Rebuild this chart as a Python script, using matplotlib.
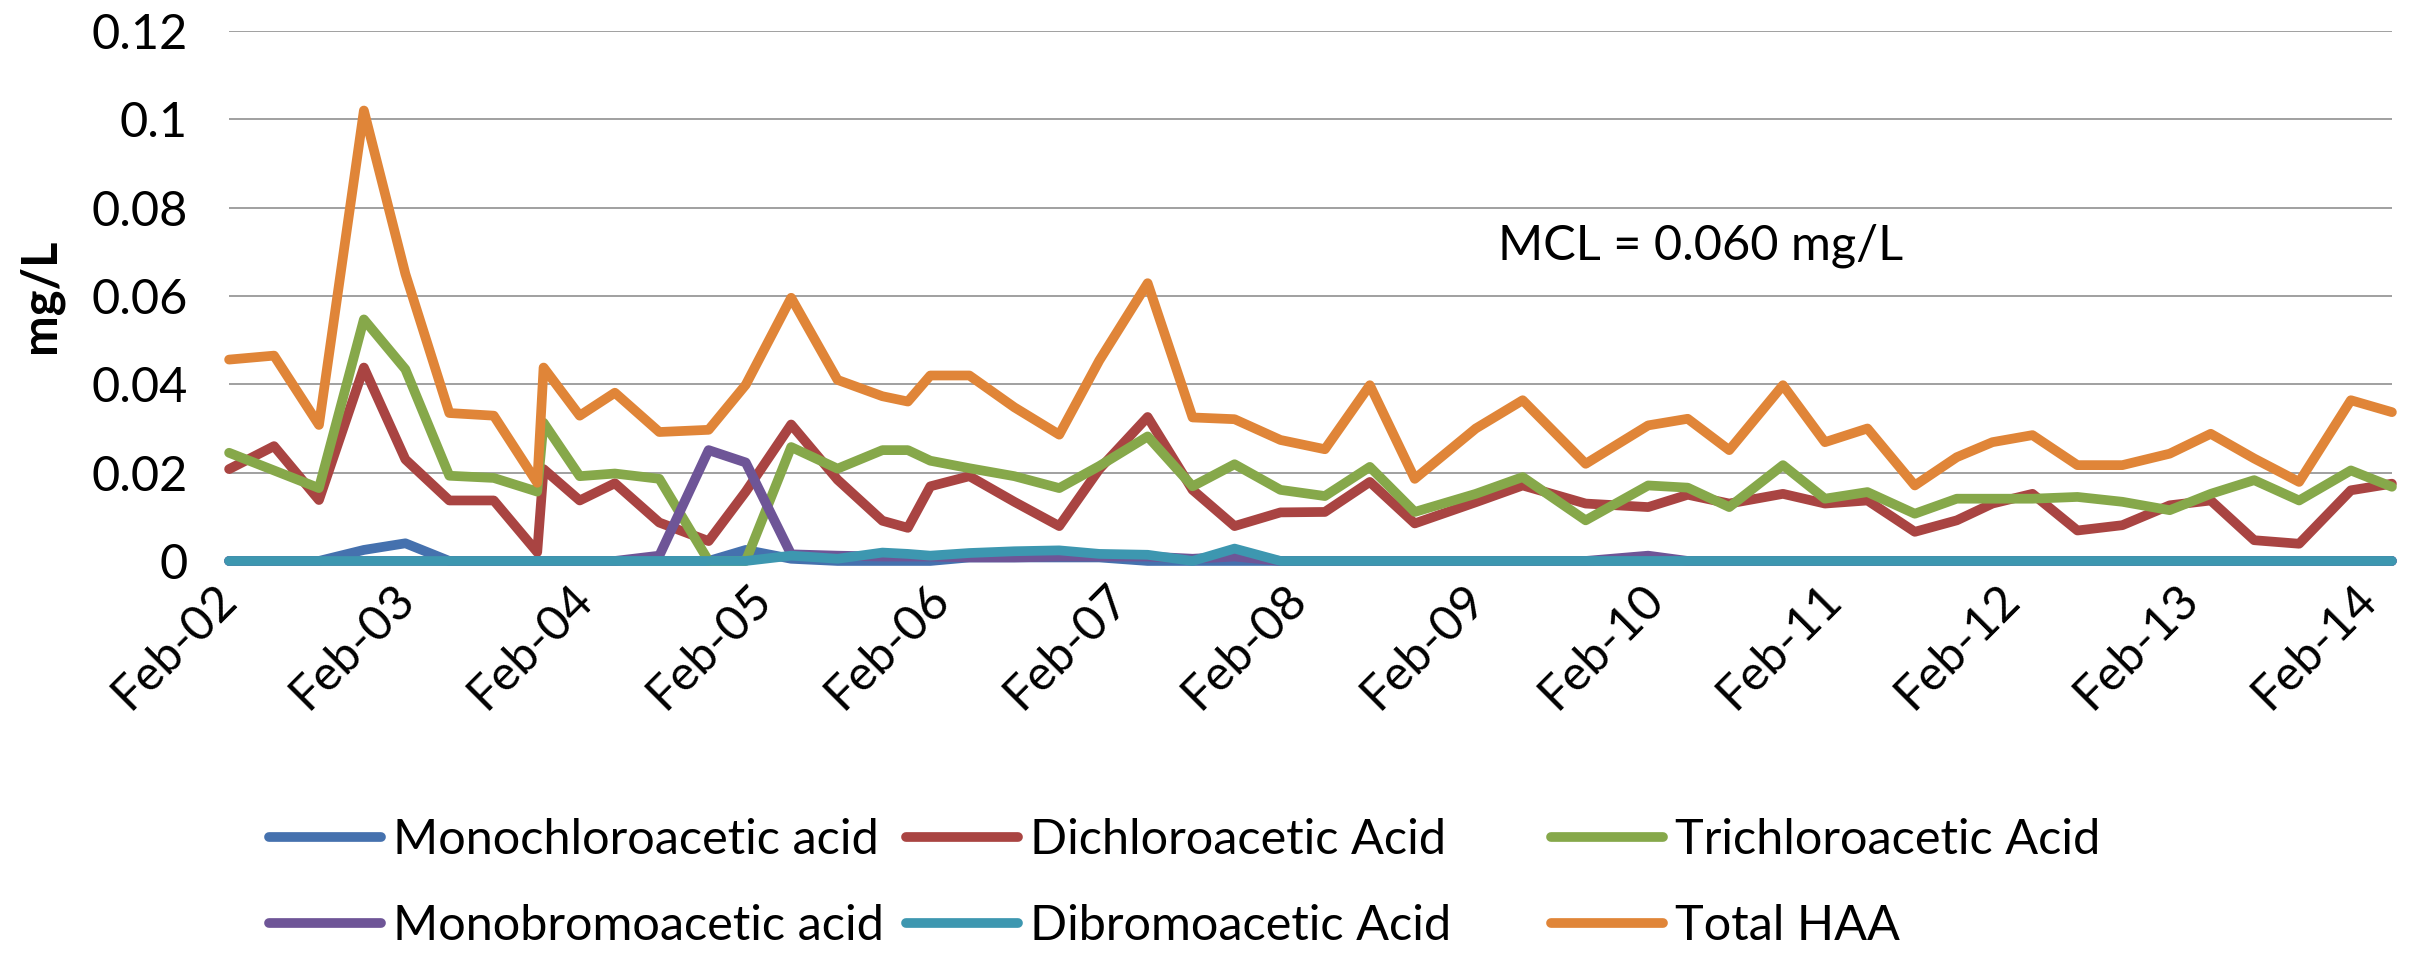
import matplotlib
matplotlib.use('Agg')
import matplotlib.pyplot as plt
import matplotlib.dates as mdates
import numpy as np
from datetime import datetime

plt.rcParams['font.family'] = ['Lato', 'DejaVu Sans']

# sampling dates
dates = ['2002-02-01', '2002-05-04', '2002-08-04', '2002-11-04', '2003-01-28',
         '2003-04-28', '2003-07-28', '2003-10-25', '2003-11-07', '2004-01-20',
         '2004-04-01', '2004-07-01', '2004-10-10', '2004-12-25', '2005-03-28',
         '2005-07-01', '2005-10-01', '2005-11-22', '2006-01-07', '2006-03-28',
         '2006-06-28', '2006-09-28', '2006-12-19', '2007-03-28', '2007-06-28',
         '2007-09-22', '2007-12-25', '2008-03-25', '2008-06-25', '2008-09-25',
         '2009-01-28', '2009-05-04', '2009-09-10', '2010-01-16', '2010-04-07',
         '2010-07-01', '2010-10-19', '2011-01-13', '2011-04-10', '2011-07-16',
         '2011-10-10', '2011-12-22', '2012-03-13', '2012-06-13', '2012-09-13',
         '2012-12-19', '2013-03-13', '2013-06-10', '2013-09-10', '2013-12-25',
         '2014-03-19']

mono_chloro = [0, 0, 0, 0.0025, 0.0040, 0, 0, 0, 0, 0,
               0, 0, 0, 0.0025, 0.0005, 0, 0, 0, 0, 0.0008,
               0.0008, 0.0008, 0.0008, 0, 0, 0, 0, 0, 0, 0,
               0, 0, 0, 0, 0, 0, 0, 0, 0, 0,
               0, 0, 0, 0, 0, 0, 0, 0, 0, 0,
               0]

di_chloro = [0.0208, 0.0260, 0.0138, 0.0438, 0.0230, 0.0137, 0.0137, 0.0020, 0.0208, 0.0137,
             0.0176, 0.0087, 0.0045, 0.0157, 0.0309, 0.0184, 0.0091, 0.0075, 0.0169, 0.0192,
             0.0134, 0.0079, 0.0208, 0.0326, 0.0161, 0.0079, 0.0110, 0.0111, 0.0179, 0.0085,
             0.0133, 0.0171, 0.0130, 0.0122, 0.0150, 0.0130, 0.0152, 0.0130, 0.0137, 0.0066,
             0.0092, 0.0130, 0.0152, 0.0069, 0.0081, 0.0126, 0.0137, 0.0047, 0.0039, 0.0160,
             0.0175]

tri_chloro = [0.0245, 0.0205, 0.0165, 0.0547, 0.0434, 0.0193, 0.0188, 0.0157, 0.0313, 0.0192,
              0.0198, 0.0186, 0.0, 0.0, 0.0258, 0.0209, 0.0251, 0.0251, 0.0227, 0.0210,
              0.0192, 0.0165, 0.0215, 0.0282, 0.0169, 0.0219, 0.0161, 0.0147, 0.0213, 0.0111,
              0.0152, 0.0190, 0.0092, 0.0171, 0.0166, 0.0122, 0.0217, 0.0141, 0.0156, 0.0107,
              0.0141, 0.0141, 0.0141, 0.0145, 0.0134, 0.0115, 0.0152, 0.0183, 0.0137, 0.0205,
              0.0168]

mono_bromo = [0, 0, 0, 0, 0, 0, 0, 0, 0, 0,
              0, 0.0012, 0.0251, 0.0223, 0.0015, 0.0012, 0.0010, 0.0010, 0.0010, 0.0008,
              0.0008, 0.0010, 0.0010, 0.0010, 0.0005, 0.0010, 0, 0, 0, 0,
              0, 0, 0, 0.0012, 0, 0, 0, 0, 0, 0,
              0, 0, 0, 0, 0, 0, 0, 0, 0, 0,
              0]

di_bromo = [0, 0, 0, 0, 0, 0, 0, 0, 0, 0,
            0, 0, 0, 0, 0.0012, 0.0005, 0.0019, 0.0016, 0.0012, 0.0018,
            0.0022, 0.0024, 0.0016, 0.0014, 0, 0.0028, 0, 0, 0, 0,
            0, 0, 0, 0, 0, 0, 0, 0, 0, 0,
            0, 0, 0, 0, 0, 0, 0, 0, 0, 0,
            0]

total_haa = [0.0456, 0.0465, 0.0308, 0.1020, 0.0650, 0.0335, 0.0329, 0.0177, 0.0438, 0.0329,
             0.0381, 0.0292, 0.0297, 0.0399, 0.0596, 0.0410, 0.0373, 0.0361, 0.0420, 0.0420,
             0.0348, 0.0286, 0.0454, 0.0629, 0.0325, 0.0321, 0.0274, 0.0253, 0.0398, 0.0186,
             0.0300, 0.0364, 0.0220, 0.0307, 0.0322, 0.0251, 0.0398, 0.0269, 0.0300, 0.0171,
             0.0235, 0.0269, 0.0285, 0.0217, 0.0217, 0.0243, 0.0288, 0.0232, 0.0179, 0.0364,
             0.0337]

series = [
    ('Monochloroacetic acid', mono_chloro, '#4571AE'),
    ('Dichloroacetic Acid', di_chloro, '#A94442'),
    ('Trichloroacetic Acid', tri_chloro, '#86A84A'),
    ('Monobromoacetic acid', mono_bromo, '#6E5597'),
    ('Dibromoacetic Acid', di_bromo, '#3D97B0'),
    ('Total HAA', total_haa, '#E08538'),
]

FS = 35
LW = 7

x = [datetime.strptime(d, '%Y-%m-%d') for d in dates]

fig, ax = plt.subplots(figsize=(24.09, 9.55), dpi=100)
fig.subplots_adjust(left=0.0951, right=0.9929, bottom=0.4126, top=0.9675)

handles = {}
for name, vals, col in series:
    ln, = ax.plot(x, vals, color=col, lw=LW, solid_joinstyle='round',
                  solid_capstyle='round', label=name, clip_on=False)
    handles[name] = ln

ax.set_xlim(x[0], x[-1])
ax.set_ylim(0, 0.12)
ax.set_yticks(np.arange(0, 0.121, 0.02))
ax.yaxis.set_major_formatter(plt.FuncFormatter(lambda v, p: '%g' % round(v, 2)))
ax.xaxis.set_major_locator(mdates.YearLocator(base=1, month=2, day=1))
ax.xaxis.set_major_formatter(mdates.DateFormatter('%b-%y'))

ax.grid(axis='y', color='#868686', lw=1.1)
ax.set_axisbelow(True)
for s in ax.spines.values():
    s.set_visible(False)
ax.tick_params(axis='y', length=0, pad=30, labelsize=FS)
ax.tick_params(axis='x', length=0, pad=22, labelsize=FS)
for lab in ax.get_xticklabels():
    lab.set_rotation(45)
    lab.set_ha('right')
    lab.set_va('center')
    lab.set_rotation_mode('anchor')

fig.text(40 / 2409, 1 - 296 / 955, 'mg/L', rotation=90, ha='center', va='center',
         fontsize=FS, fontweight='bold')

ax.text(0.5867, 0.594, 'MCL = 0.060 mg/L', transform=ax.transAxes,
        ha='left', va='center', fontsize=FS)

# legend laid out as three columns, row-major like the source
cols = [(['Monochloroacetic acid', 'Monobromoacetic acid'], 269),
        (['Dichloroacetic Acid', 'Dibromoacetic Acid'], 906),
        (['Trichloroacetic Acid', 'Total HAA'], 1551)]
for names, px in cols:
    leg = fig.legend([handles[n] for n in names], names, loc='center left',
                     bbox_to_anchor=(px / 2409, 1 - 883 / 955), frameon=False,
                     fontsize=FS, handlelength=2.3, handletextpad=0.25,
                     borderpad=0, borderaxespad=0, labelspacing=0.85)

fig.savefig('out.png', dpi=100)
